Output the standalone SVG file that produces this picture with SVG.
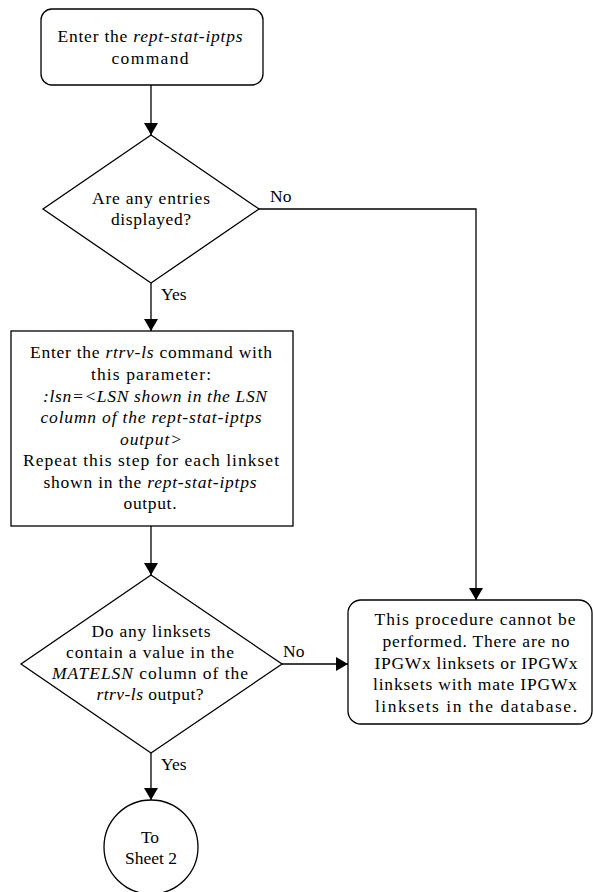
<svg xmlns="http://www.w3.org/2000/svg" width="593" height="892" viewBox="0 0 593 892">
<style>
.s{fill:#fff;stroke:#000;stroke-width:1.3}
.c{fill:none;stroke:#000;stroke-width:1.3}
text{font-family:"Liberation Serif","Times New Roman",serif;font-size:17.5px;fill:#000}
.m{text-anchor:middle}
.i{font-style:italic}
</style>
<defs>
<marker id="ah" viewBox="0 0 12 14" refX="12" refY="7" markerWidth="12" markerHeight="14" markerUnits="userSpaceOnUse" orient="auto">
<path d="M0,0 L12,7 L0,14 Z" fill="#000"/>
</marker>
</defs>
<rect width="593" height="892" fill="#fff"/>
<g id="connectors">
<path class="c" d="M151,85 V135" marker-end="url(#ah)"/>
<path class="c" d="M259,209 H476 V600" marker-end="url(#ah)"/>
<path class="c" d="M151,283 V331" marker-end="url(#ah)"/>
<path class="c" d="M151,526 V575" marker-end="url(#ah)"/>
<path class="c" d="M282,664 H348" marker-end="url(#ah)"/>
<path class="c" d="M151,753 V800" marker-end="url(#ah)"/>
<text x="270" y="202">No</text>
<text x="161" y="300">Yes</text>
<text x="283" y="657">No</text>
<text x="161" y="770">Yes</text>
</g>
<g id="start">
<rect class="s" x="41" y="9" width="222" height="76" rx="11"/>
<text class="m" x="150" y="42" textLength="185">Enter the <tspan class="i">rept-stat-iptps</tspan></text>
<text class="m" x="150" y="64" textLength="77">command</text>
</g>
<g id="decision1">
<polygon class="s" points="151,135 259,209 151,283 43,209"/>
<text class="m" x="151" y="204" textLength="118">Are any entries</text>
<text class="m" x="151" y="225" textLength="80">displayed?</text>
</g>
<g id="step2">
<rect class="s" x="11" y="331" width="282" height="195"/>
<text class="m" x="151" y="358" textLength="242">Enter the <tspan class="i">rtrv-ls</tspan> command with</text>
<text class="m" x="151" y="380" textLength="120">this parameter:</text>
<text class="m i" x="155" y="402" textLength="224">:lsn=&lt;LSN shown in the LSN</text>
<text class="m i" x="151" y="423" textLength="221">column of the rept-stat-iptps</text>
<text class="m i" x="151" y="445" textLength="62">output&gt;</text>
<text class="m" x="151" y="466" textLength="256">Repeat this step for each linkset</text>
<text class="m" x="150" y="488" textLength="213">shown in the <tspan class="i">rept-stat-iptps</tspan></text>
<text class="m" x="150" y="509" textLength="53">output.</text>
</g>
<g id="decision2">
<polygon class="s" points="151,575 282,664 151,753 21,664"/>
<text class="m" x="151" y="637" textLength="119">Do any linksets</text>
<text class="m" x="150" y="658" textLength="168">contain a value in the</text>
<text class="m" x="150" y="679" textLength="196"><tspan class="i">MATELSN</tspan> column of the</text>
<text class="m" x="150" y="700" textLength="107"><tspan class="i">rtrv-ls</tspan> output?</text>
</g>
<g id="end">
<rect class="s" x="348" y="600" width="244" height="124" rx="13"/>
<text class="m" x="475" y="625" textLength="201">This procedure cannot be</text>
<text class="m" x="476" y="647" textLength="187">performed. There are no</text>
<text class="m" x="476" y="669" textLength="203">IPGWx linksets or IPGWx</text>
<text class="m" x="475" y="690" textLength="204">linksets with mate IPGWx</text>
<text class="m" x="476" y="712" textLength="202">linksets in the database.</text>
</g>
<g id="sheet2">
<circle class="s" cx="151" cy="847" r="47"/>
<text class="m" x="150" y="843">To</text>
<text class="m" x="151" y="864">Sheet 2</text>
</g>
</svg>
